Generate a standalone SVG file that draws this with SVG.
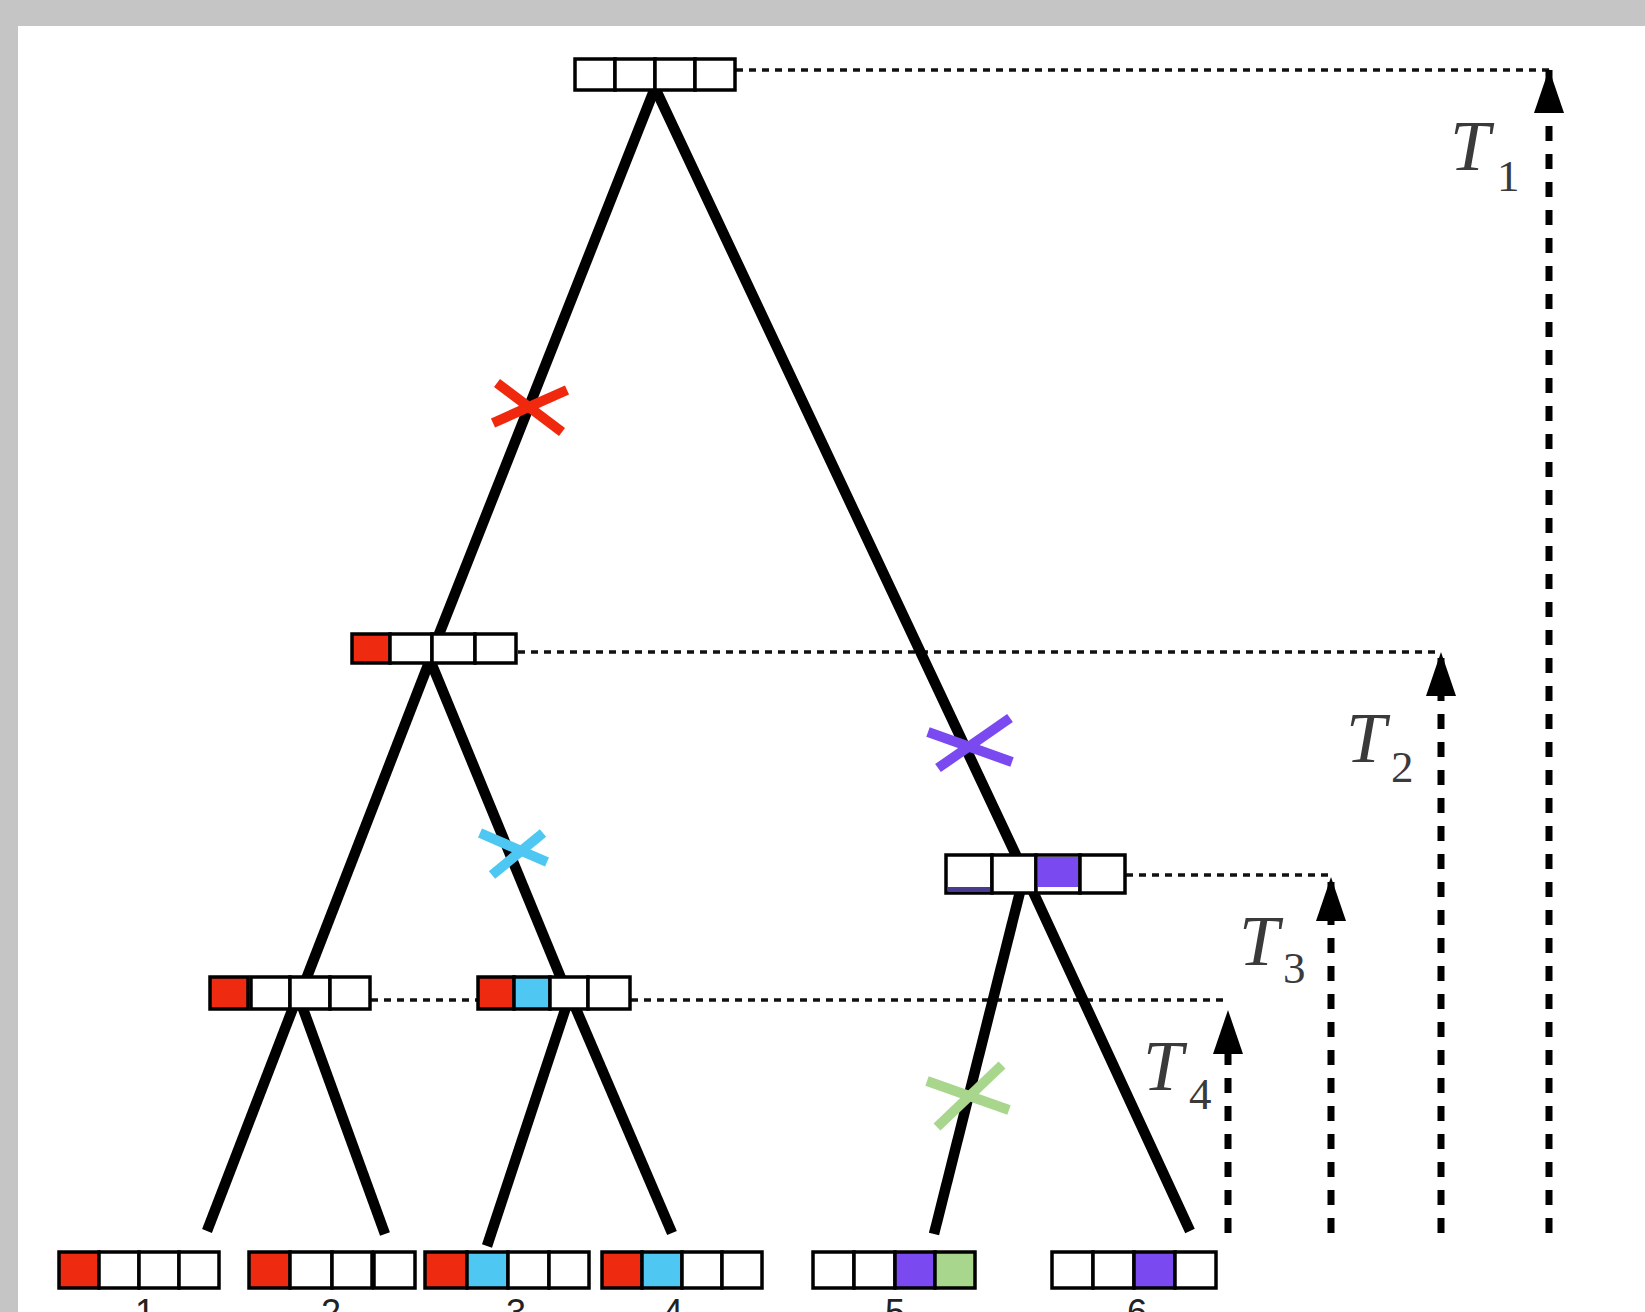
<svg xmlns="http://www.w3.org/2000/svg" width="1645" height="1312" viewBox="0 0 1645 1312">
<defs>
<marker id="arr" viewBox="0 0 44 30" refX="44" refY="15" markerWidth="44" markerHeight="30" markerUnits="userSpaceOnUse" orient="auto">
<path d="M0,0 L44,15 L0,30 z" fill="#000"/>
</marker>
</defs>
<style>
.c{fill:#fff;stroke:#000;stroke-width:3.5}
.r{fill:#ee2a10}
.b{fill:#4ec8f2}
.p{fill:#7a4af0}
.g{fill:#a8d68c}
.br{stroke:#000;stroke-width:10.5;fill:none;stroke-linecap:butt}
.dot{stroke:#111;stroke-width:3.5;stroke-dasharray:7 6;fill:none}
.vd{stroke:#000;stroke-width:7;stroke-dasharray:15 13;fill:none;marker-end:url(#arr)}
.x{stroke-width:10;fill:none}
.tl{font-family:"Liberation Serif",serif;fill:#3a3a3a}
.tt{font-style:italic;font-size:72px}
.ts{font-size:45px}
.lab{font-family:"Liberation Sans",Arial,sans-serif;font-size:36px;fill:#222;text-anchor:middle}
</style>
<rect x="0" y="0" width="1645" height="1312" fill="#c4c5c4"/>
<rect x="18" y="26" width="1627" height="1286" fill="#fff"/>

<g id="connectors">
<line class="dot" x1="736" y1="70" x2="1549" y2="70"/>
<line class="dot" x1="518" y1="652" x2="1441" y2="652"/>
<line class="dot" x1="1126" y1="875" x2="1331" y2="875"/>
<line class="dot" x1="371" y1="1000" x2="478" y2="1000"/>
<line class="dot" x1="631" y1="1000" x2="1228" y2="1000"/>
<line class="vd" x1="1549" y1="1233" x2="1549" y2="69"/>
<line class="vd" x1="1441" y1="1233" x2="1441" y2="652"/>
<line class="vd" x1="1331" y1="1233" x2="1331" y2="877"/>
<line class="vd" x1="1228" y1="1233" x2="1228" y2="1010"/>
<line class="br" x1="655" y1="88" x2="428" y2="662"/>
<polyline class="br" points="655,88 1023,870 1190,1231"/>
<line class="br" x1="1023" y1="880" x2="934" y2="1234"/>
<line class="br" x1="430" y1="660" x2="298" y2="1000"/>
<line class="br" x1="430" y1="660" x2="570" y2="1000"/>
<line class="br" x1="298" y1="995" x2="207" y2="1231"/>
<line class="br" x1="298" y1="995" x2="385" y2="1234"/>
<line class="br" x1="570" y1="995" x2="487" y2="1246"/>
<line class="br" x1="570" y1="995" x2="672" y2="1233"/>
</g>

<g id="mutations">
<g id="mut-red" stroke="#f0280e">
<line class="x" x1="497" y1="383" x2="562" y2="432"/>
<line class="x" x1="493" y1="423" x2="567" y2="390"/>
</g>
<g id="mut-cyan" stroke="#4ec8f2">
<line class="x" x1="480" y1="833" x2="547" y2="862"/>
<line class="x" x1="492" y1="875" x2="543" y2="833"/>
</g>
<g id="mut-purple" stroke="#7a4af0">
<line class="x" x1="928" y1="732" x2="1012" y2="762"/>
<line class="x" x1="938" y1="768" x2="1010" y2="718"/>
</g>
<g id="mut-green" stroke="#a8d68c">
<line class="x" x1="927" y1="1081" x2="1009" y2="1110"/>
<line class="x" x1="937" y1="1127" x2="1002" y2="1065"/>
</g>
</g>

<g id="root">
<rect class="c" x="575" y="59" width="40" height="31"/>
<rect class="c" x="615" y="59" width="40" height="31"/>
<rect class="c" x="655" y="59" width="40" height="31"/>
<rect class="c" x="695" y="59" width="40" height="31"/>
</g>
<g id="node-left">
<rect class="c r" x="352" y="634" width="38" height="29"/>
<rect class="c" x="390" y="634" width="42" height="29"/>
<rect class="c" x="432" y="634" width="43" height="29"/>
<rect class="c" x="475" y="634" width="41" height="29"/>
</g>
<g id="node-a">
<rect class="c r" x="210" y="977" width="38" height="32"/>
<rect class="c" x="251" y="977" width="39" height="32"/>
<rect class="c" x="290" y="977" width="40" height="32"/>
<rect class="c" x="330" y="977" width="40" height="32"/>
</g>
<g id="node-b">
<rect class="c r" x="478" y="977" width="36" height="32"/>
<rect class="c b" x="514" y="977" width="36" height="32"/>
<rect class="c" x="550" y="977" width="38" height="32"/>
<rect class="c" x="588" y="977" width="42" height="32"/>
</g>
<g id="node-right">
<rect class="c" x="946" y="855" width="46" height="38"/>
<rect x="948" y="887" width="42" height="5" fill="#4a3a90"/>
<rect class="c" x="992" y="855" width="44" height="38"/>
<rect class="c" x="1036" y="855" width="44" height="38"/>
<rect x="1038" y="857" width="40" height="30" class="p"/>
<rect class="c" x="1080" y="855" width="45" height="38"/>
</g>

<g id="leaf-1">
<rect class="c r" x="59" y="1252" width="40" height="36"/>
<rect class="c" x="99" y="1252" width="40" height="36"/>
<rect class="c" x="139" y="1252" width="40" height="36"/>
<rect class="c" x="179" y="1252" width="40" height="36"/>
<text class="lab" x="145" y="1325">1</text>
</g>
<g id="leaf-2">
<rect class="c r" x="249" y="1252" width="41" height="36"/>
<rect class="c" x="290" y="1252" width="42" height="36"/>
<rect class="c" x="332" y="1252" width="40" height="36"/>
<rect class="c" x="374" y="1252" width="41" height="36"/>
<text class="lab" x="331" y="1325">2</text>
</g>
<g id="leaf-3">
<rect class="c r" x="425" y="1252" width="42" height="36"/>
<rect class="c b" x="467" y="1252" width="41" height="36"/>
<rect class="c" x="508" y="1252" width="41" height="36"/>
<rect class="c" x="549" y="1252" width="40" height="36"/>
<text class="lab" x="516" y="1325">3</text>
</g>
<g id="leaf-4">
<rect class="c r" x="602" y="1252" width="40" height="36"/>
<rect class="c b" x="642" y="1252" width="40" height="36"/>
<rect class="c" x="682" y="1252" width="40" height="36"/>
<rect class="c" x="722" y="1252" width="40" height="36"/>
<text class="lab" x="673" y="1325">4</text>
</g>
<g id="leaf-5">
<rect class="c" x="813" y="1252" width="41" height="36"/>
<rect class="c" x="854" y="1252" width="41" height="36"/>
<rect class="c p" x="895" y="1252" width="40" height="36"/>
<rect class="c g" x="935" y="1252" width="40" height="36"/>
<text class="lab" x="895" y="1325">5</text>
</g>
<g id="leaf-6">
<rect class="c" x="1052" y="1252" width="41" height="36"/>
<rect class="c" x="1093" y="1252" width="41" height="36"/>
<rect class="c p" x="1134" y="1252" width="41" height="36"/>
<rect class="c" x="1175" y="1252" width="41" height="36"/>
<text class="lab" x="1137" y="1325">6</text>
</g>

<g id="labels">
<text class="tl" x="1450" y="170"><tspan class="tt">T</tspan><tspan class="ts" x="1497" y="191">1</tspan></text>
<text class="tl" x="1346" y="762"><tspan class="tt">T</tspan><tspan class="ts" x="1391" y="782">2</tspan></text>
<text class="tl" x="1239" y="965"><tspan class="tt">T</tspan><tspan class="ts" x="1283" y="983">3</tspan></text>
<text class="tl" x="1143" y="1090"><tspan class="tt">T</tspan><tspan class="ts" x="1189" y="1109">4</tspan></text>
</g>
</svg>
